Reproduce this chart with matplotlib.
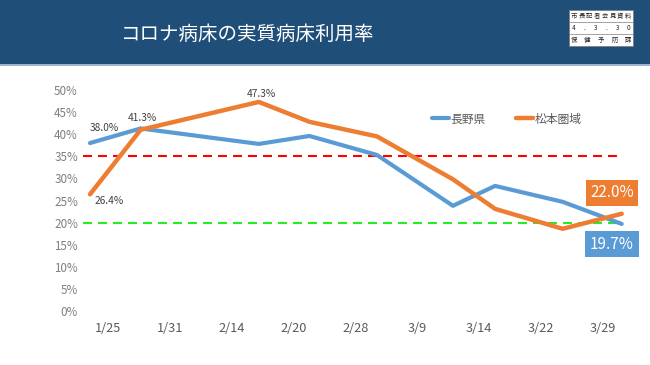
import numpy as np
import matplotlib
matplotlib.use("Agg")
import matplotlib.pyplot as plt
from matplotlib.patches import Rectangle
from matplotlib.lines import Line2D
import datetime as dt

plt.rcParams['font.family'] = ['Noto Sans CJK JP', 'DejaVu Sans']

# ---- data ----
dates = ["1/25", "1/31", "2/14", "2/20", "2/28", "3/9", "3/14", "3/22", "3/29"]
nagano = [38.0, 41.3, 37.8, 39.6, 35.3, 23.8, 28.3, 24.7, 19.7]
matsumoto = [26.4, 41.0, 47.3, 42.8, 39.5, 29.8, 23.1, 18.6, 22.0]
red_level = 35
green_level = 20
title = "コロナ病床の実質病床利用率"
series_names = ["長野県", "松本圏域"]
stamp_rows = [list("市長記者会見資料"), list("4.3.30"), list("保健予防課")]

BLUE = "#5B9BD5"
ORANGE = "#ED7D31"

W, H = 650, 365
fig = plt.figure(figsize=(W / 100, H / 100), dpi=100)
fig.patch.set_facecolor("white")

def fx(px):
    return px / W

def fy(py):
    return 1 - py / H

# title bar
fig.patches.append(Rectangle((0, fy(64)), 1, 64 / H, transform=fig.transFigure,
                             facecolor="#1F4E79", edgecolor="none", zorder=0))
fig.patches.append(Rectangle((0, fy(66)), 1, 2 / H, transform=fig.transFigure,
                             facecolor="#9DB4D3", edgecolor="none", zorder=0))
fig.text(fx(248), fy(34), title, color="white", fontsize=14, ha="center", va="center")

# stamp box
bx0, bx1, by0, by1 = 569, 633, 10, 46
rh = (by1 - by0) / 3
fig.patches.append(Rectangle((fx(bx0), fy(by1)), (bx1 - bx0) / W, (by1 - by0) / H,
                             transform=fig.transFigure, facecolor="white",
                             edgecolor="#7F7F7F", linewidth=0.6, zorder=1))
for i in range(1, 3):
    fig.lines.append(Line2D([fx(bx0), fx(bx1)], [fy(by0 + i * rh)] * 2,
                            transform=fig.transFigure, color="#7F7F7F", linewidth=0.5))
for i, row in enumerate(stamp_rows):
    xs = np.linspace(bx0 + 5, bx1 - 5, len(row))
    for x, ch in zip(xs, row):
        fig.text(fx(x), fy(by0 + (i + 0.5) * rh), ch, fontsize=4.6, color="#222222",
                 ha="center", va="center")

# axes
d0 = dt.date(2022, 1, 25)
year_dates = [dt.date(2022, int(s.split("/")[0]), int(s.split("/")[1])) for s in dates]
days = np.array([(d - d0).days for d in year_dates], dtype=float)

ppd = 8.44  # pixels per day
x0px = 90
ax_l, ax_r, ax_t, ax_b = 80, 636, 90, 311
ax = fig.add_axes([fx(ax_l), fy(ax_b), (ax_r - ax_l) / W, (ax_b - ax_t) / H])
ax.set_xlim((ax_l - x0px) / ppd, (ax_r - x0px) / ppd)
ax.set_ylim(0, 50)
for s in ax.spines.values():
    s.set_visible(False)
ax.set_facecolor("none")

ax.set_yticks(np.arange(0, 51, 5))
ax.set_yticklabels([f"{v}%" for v in range(0, 51, 5)], color="#7F7F7F", fontsize=8.4)
ticks = np.linspace(days[0] + 2.1, days[-1] - 2.2, len(dates))
ax.set_xticks(ticks)
ax.set_xticklabels(dates, color="#595959", fontsize=9.2)
ax.tick_params(length=0, pad=1.5)
ax.tick_params(axis="x", pad=8)

ax.axhline(red_level, xmin=0.005, xmax=0.968, color="#FF0000", lw=1.5,
           dashes=(4.3, 2.9), zorder=2)
ax.axhline(green_level, xmin=0.005, xmax=0.972, color="#22EE22", lw=1.5,
           dashes=(4.3, 2.9), zorder=2)

ax.plot(days, nagano, color=BLUE, lw=3.0, solid_capstyle="round", zorder=3,
        label=series_names[0])
ax.plot(days, matsumoto, color=ORANGE, lw=3.2, solid_capstyle="round", zorder=4,
        label=series_names[1])

lab_kw = dict(textcoords="offset points", fontsize=7.3, color="#404040",
              ha="center", va="center", annotation_clip=False)
ax.annotate(f"{nagano[0]:.1f}%", (days[0], nagano[0]), xytext=(10, 11), **lab_kw)
ax.annotate(f"{nagano[1]:.1f}%", (days[1], nagano[1]), xytext=(1.5, 7.5), **lab_kw)
ax.annotate(f"{matsumoto[2]:.1f}%", (days[2], matsumoto[2]), xytext=(1.5, 6), **lab_kw)
ax.annotate(f"{matsumoto[0]:.1f}%", (days[0], matsumoto[0]), xytext=(13.5, -5), **lab_kw)

ax.annotate(f"{matsumoto[-1]:.1f}%", (days[-1], matsumoto[-1]), xytext=(-7, 15),
            textcoords="offset points", fontsize=11, color="white", ha="center",
            va="center", annotation_clip=False,
            bbox=dict(boxstyle="square,pad=0.3", fc=ORANGE, ec="none"))
ax.annotate(f"{nagano[-1]:.1f}%", (days[-1], nagano[-1]), xytext=(-7, -14.5),
            textcoords="offset points", fontsize=11, color="white", ha="center",
            va="center", annotation_clip=False,
            bbox=dict(boxstyle="square,pad=0.3", fc=BLUE, ec="none"))

leg = ax.legend(loc="center left", bbox_to_anchor=(fx(432), fy(119)),
                bbox_transform=fig.transFigure, ncol=2, frameon=False,
                fontsize=8.5, handlelength=1.45, handletextpad=0.1,
                columnspacing=2.6, borderaxespad=0, borderpad=0)
for t in leg.get_texts():
    t.set_color("#595959")

fig.savefig("out.png", dpi=100)
